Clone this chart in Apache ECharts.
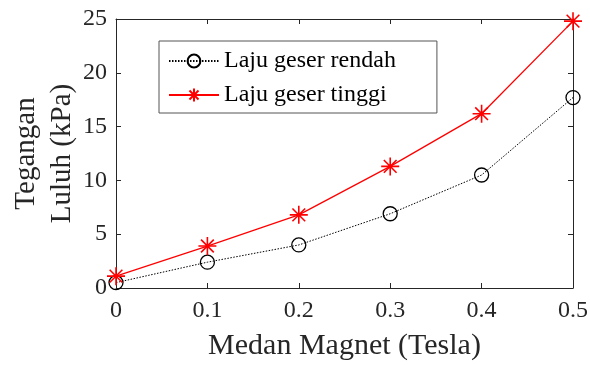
<!DOCTYPE html>
<html><head><meta charset="utf-8">
<script src="https://cdn.jsdelivr.net/npm/echarts@6/dist/echarts.min.js"></script>
<style>html,body{margin:0;padding:0;background:#fff}#c{width:590px;height:365px}</style>
</head><body><div id="c"></div>
<script>
const xValues = [0, 0.1, 0.2, 0.3, 0.4, 0.5];
const lowShear = [0.5, 2.4, 4.0, 6.9, 10.5, 17.7];
const highShear = [1.1, 3.9, 6.8, 11.3, 16.2, 24.8];
const seriesNames = ['Laju geser rendah', 'Laju geser tinggi'];
const xTitle = 'Medan Magnet (Tesla)';
const yTitle = 'Tegangan\nLuluh (kPa)';

const font = 'Liberation Serif';
const axisColor = '#262626';
const star = 'path://M0,-10L0,10M-10,0L10,0M-7.07,-7.07L7.07,7.07M-7.07,7.07L7.07,-7.07';

const chart = echarts.init(document.getElementById('c'), null, {renderer: 'canvas'});
const baseAxis = {
  axisLine: {show: true, onZero: false, lineStyle: {color: axisColor, width: 1}},
  axisTick: {show: true, inside: true, length: 5, lineStyle: {color: axisColor}},
  splitLine: {show: false}
};
chart.setOption({
  animation: false,
  grid: {left: 116, right: 17, top: 19, bottom: 77, containLabel: false, outerBoundsMode: 'none'},
  legend: {
    orient: 'vertical', left: 159, top: 41,
    itemWidth: 50, itemHeight: 16, itemGap: 10,
    padding: [8, 41, 6, 9],
    borderColor: '#555', borderWidth: 1, backgroundColor: '#fff',
    textStyle: {fontFamily: font, fontSize: 24, color: '#000'},
    data: seriesNames
  },
  xAxis: [
    Object.assign({}, baseAxis, {
      type: 'value', min: 0, max: 0.5, interval: 0.1, position: 'bottom',
      name: xTitle, nameLocation: 'middle', nameGap: 43, nameMoveOverlap: false,
      nameTextStyle: {fontFamily: font, fontSize: 30, color: axisColor},
      axisLabel: {fontFamily: font, fontSize: 24, color: axisColor, margin: 11,
        formatter: v => String(Math.round(v * 10) / 10)}
    }),
    Object.assign({}, baseAxis, {
      type: 'value', min: 0, max: 0.5, interval: 0.1, position: 'top',
      axisLabel: {show: false}
    })
  ],
  yAxis: [
    Object.assign({}, baseAxis, {
      type: 'value', min: 0, max: 25, interval: 5, position: 'left',
      name: yTitle, nameLocation: 'middle', nameGap: 36, nameRotate: 90, nameMoveOverlap: false,
      nameTextStyle: {fontFamily: font, fontSize: 29, color: axisColor, lineHeight: 36},
      axisLabel: {fontFamily: font, fontSize: 24, color: axisColor, margin: 9}
    }),
    Object.assign({}, baseAxis, {
      type: 'value', min: 0, max: 25, interval: 5, position: 'right',
      axisLabel: {show: false}
    })
  ],
  series: [
    {
      name: seriesNames[0], type: 'line',
      data: xValues.map((x, i) => [x, lowShear[i]]),
      symbol: 'circle', symbolSize: 14,
      itemStyle: {color: 'transparent', borderColor: '#000', borderWidth: 1.3},
      lineStyle: {color: '#000', width: 1, type: [1.5, 1.5]},
      z: 3
    },
    {
      name: seriesNames[1], type: 'line',
      data: xValues.map((x, i) => [x, highShear[i]]),
      symbol: star, symbolSize: 18,
      itemStyle: {color: 'none', borderColor: '#ff0000', borderWidth: 1.6},
      lineStyle: {color: '#ff0000', width: 1.3},
      z: 4
    }
  ]
});
</script></body></html>
